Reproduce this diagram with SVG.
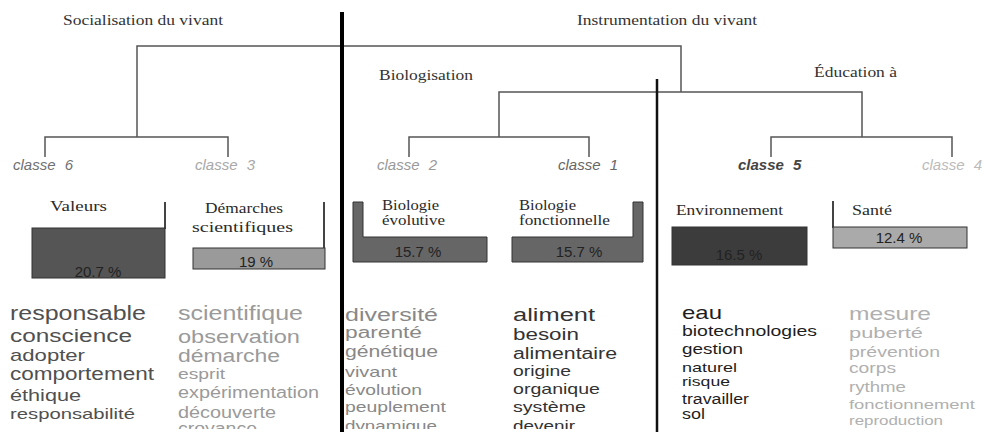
<svg xmlns="http://www.w3.org/2000/svg" width="987" height="437" viewBox="0 0 987 437">
<style>
.serif{font-family:"Liberation Serif","Times New Roman",serif;font-size:15px;fill:#333}
.box{font-family:"Liberation Serif","Times New Roman",serif;font-size:15px;fill:#2a2a2a}
.cls{font-family:"Liberation Sans",Arial,sans-serif;font-size:15px;font-style:italic;word-spacing:5px}
.pct{font-family:"Liberation Sans",Arial,sans-serif;font-size:15px;fill:#222;text-anchor:middle}
.w{font-family:"Liberation Sans",Arial,sans-serif}
.dend{fill:none;stroke:#555;stroke-width:1.5}
.bar{stroke:#333;stroke-width:1}
</style>
<defs>
<clipPath id="cut"><rect x="0" y="290" width="987" height="139"/></clipPath>
</defs>
<rect width="987" height="437" fill="#fff"/>
<g id="titles">
<text class="serif" x="63" y="25" textLength="160" lengthAdjust="spacingAndGlyphs">Socialisation du vivant</text>
<text class="serif" x="577" y="25" textLength="180" lengthAdjust="spacingAndGlyphs">Instrumentation du vivant</text>
<text class="serif" x="379" y="80" textLength="94" lengthAdjust="spacingAndGlyphs">Biologisation</text>
<text class="serif" x="814" y="77" textLength="83" lengthAdjust="spacingAndGlyphs">Éducation à</text>
</g>
<g id="connectors">
<path class="dend" d="M137 137V46H681V92"/>
<path class="dend" d="M45 157V137H228V157"/>
<path class="dend" d="M499 137V92H862V137"/>
<path class="dend" d="M409 157V137H589V157"/>
<path class="dend" d="M771 157V137H952V157"/>
<line x1="342" y1="12" x2="342" y2="432" stroke="#000" stroke-width="4"/>
<line x1="657" y1="79" x2="657" y2="432" stroke="#111" stroke-width="2.5"/>
</g>
<g id="classe6">
<text class="cls" x="13" y="170" fill="#707070">classe 6</text>
<line x1="165" y1="202" x2="165" y2="229" stroke="#444" stroke-width="2"/>
<rect class="bar" x="32" y="228" width="133" height="50" fill="#555"/>
<text class="box" x="50" y="211" textLength="57" lengthAdjust="spacingAndGlyphs">Valeurs</text>
<text class="pct" x="98" y="277">20.7 %</text>
<g clip-path="url(#cut)" fill="#505050" class="w">
<text x="10" y="320" font-size="20" textLength="136" lengthAdjust="spacingAndGlyphs">responsable</text>
<text x="10" y="342" font-size="18" textLength="122" lengthAdjust="spacingAndGlyphs">conscience</text>
<text x="10" y="361" font-size="17" textLength="75" lengthAdjust="spacingAndGlyphs">adopter</text>
<text x="10" y="380" font-size="18" textLength="144" lengthAdjust="spacingAndGlyphs">comportement</text>
<text x="10" y="401" font-size="16" textLength="71" lengthAdjust="spacingAndGlyphs">éthique</text>
<text x="10" y="419" font-size="15" textLength="125" lengthAdjust="spacingAndGlyphs">responsabilité</text>
</g>
</g>
<g id="classe3">
<text class="cls" x="195" y="170" fill="#a8a8a8">classe 3</text>
<line x1="324" y1="202" x2="324" y2="249" stroke="#444" stroke-width="2"/>
<rect class="bar" x="193" y="248" width="132" height="21" fill="#9a9a9a"/>
<text class="box" x="205" y="213" textLength="78" lengthAdjust="spacingAndGlyphs">Démarches</text>
<text class="box" x="192" y="232" textLength="101" lengthAdjust="spacingAndGlyphs">scientifiques</text>
<text class="pct" x="256" y="267">19 %</text>
<g clip-path="url(#cut)" fill="#9a9a9a" class="w">
<text x="178" y="320" font-size="20" textLength="125" lengthAdjust="spacingAndGlyphs">scientifique</text>
<text x="178" y="343" font-size="19" textLength="122" lengthAdjust="spacingAndGlyphs">observation</text>
<text x="178" y="362" font-size="18" textLength="102" lengthAdjust="spacingAndGlyphs">démarche</text>
<text x="178" y="379" font-size="15" textLength="47" lengthAdjust="spacingAndGlyphs">esprit</text>
<text x="178" y="398" font-size="16" textLength="141" lengthAdjust="spacingAndGlyphs">expérimentation</text>
<text x="178" y="418" font-size="16" textLength="98" lengthAdjust="spacingAndGlyphs">découverte</text>
<text x="178" y="434" font-size="16" textLength="79" lengthAdjust="spacingAndGlyphs">croyance</text>
</g>
</g>
<g id="classe2">
<text class="cls" x="377" y="170" fill="#999">classe 2</text>
<path class="bar" d="M353 202H363V237H487V262H353Z" fill="#666"/>
<text class="box" x="382" y="210" textLength="57" lengthAdjust="spacingAndGlyphs">Biologie</text>
<text class="box" x="382" y="225" textLength="63" lengthAdjust="spacingAndGlyphs">évolutive</text>
<text class="pct" x="418" y="257">15.7 %</text>
<g clip-path="url(#cut)" fill="#888" class="w">
<text x="345" y="321" font-size="18" textLength="93" lengthAdjust="spacingAndGlyphs">diversité</text>
<text x="345" y="338" font-size="16" textLength="77" lengthAdjust="spacingAndGlyphs">parenté</text>
<text x="345" y="357" font-size="16" textLength="93" lengthAdjust="spacingAndGlyphs">génétique</text>
<text x="345" y="377" font-size="15" textLength="52" lengthAdjust="spacingAndGlyphs">vivant</text>
<text x="345" y="395" font-size="15" textLength="77" lengthAdjust="spacingAndGlyphs">évolution</text>
<text x="345" y="412" font-size="15" textLength="101" lengthAdjust="spacingAndGlyphs">peuplement</text>
<text x="345" y="431" font-size="15" textLength="92" lengthAdjust="spacingAndGlyphs">dynamique</text>
</g>
</g>
<g id="classe1">
<text class="cls" x="558" y="170" fill="#666">classe 1</text>
<path class="bar" d="M643 202H633V237H512V262H643Z" fill="#666"/>
<text class="box" x="519" y="210" textLength="57" lengthAdjust="spacingAndGlyphs">Biologie</text>
<text class="box" x="519" y="225" textLength="91" lengthAdjust="spacingAndGlyphs">fonctionnelle</text>
<text class="pct" x="579" y="257">15.7 %</text>
<g clip-path="url(#cut)" fill="#333" class="w">
<text x="513" y="321" font-size="18" textLength="82" lengthAdjust="spacingAndGlyphs">aliment</text>
<text x="513" y="340" font-size="16" textLength="66" lengthAdjust="spacingAndGlyphs">besoin</text>
<text x="513" y="359" font-size="16" textLength="104" lengthAdjust="spacingAndGlyphs">alimentaire</text>
<text x="513" y="376" font-size="15" textLength="58" lengthAdjust="spacingAndGlyphs">origine</text>
<text x="513" y="394" font-size="15" textLength="87" lengthAdjust="spacingAndGlyphs">organique</text>
<text x="513" y="412" font-size="15" textLength="73" lengthAdjust="spacingAndGlyphs">système</text>
<text x="513" y="431" font-size="15" textLength="62" lengthAdjust="spacingAndGlyphs">devenir</text>
</g>
</g>
<g id="classe5">
<text class="cls" x="738" y="170" fill="#444" font-weight="bold">classe 5</text>
<rect class="bar" x="672" y="227" width="135" height="38" fill="#3c3c3c"/>
<text class="box" x="676" y="215" textLength="107" lengthAdjust="spacingAndGlyphs">Environnement</text>
<text class="pct" x="739" y="260" fill="#1e1e1e">16.5 %</text>
<g clip-path="url(#cut)" fill="#1e1e1e" class="w">
<text x="682" y="319" font-size="19" textLength="40" lengthAdjust="spacingAndGlyphs">eau</text>
<text x="682" y="336" font-size="15" textLength="135" lengthAdjust="spacingAndGlyphs">biotechnologies</text>
<text x="682" y="354" font-size="15" textLength="61" lengthAdjust="spacingAndGlyphs">gestion</text>
<text x="682" y="372" font-size="13" textLength="55" lengthAdjust="spacingAndGlyphs">naturel</text>
<text x="682" y="386" font-size="13" textLength="48" lengthAdjust="spacingAndGlyphs">risque</text>
<text x="682" y="404" font-size="14" textLength="67" lengthAdjust="spacingAndGlyphs">travailler</text>
<text x="682" y="419" font-size="14" textLength="23" lengthAdjust="spacingAndGlyphs">sol</text>
</g>
</g>
<g id="classe4">
<text class="cls" x="922" y="170" fill="#bbb">classe 4</text>
<line x1="833" y1="201" x2="833" y2="228" stroke="#444" stroke-width="2"/>
<rect class="bar" x="833" y="227" width="134" height="21" fill="#aaa"/>
<text class="box" x="852" y="215" textLength="40" lengthAdjust="spacingAndGlyphs">Santé</text>
<text class="pct" x="899" y="243">12.4 %</text>
<g clip-path="url(#cut)" fill="#b0b0b0" class="w">
<text x="849" y="320" font-size="19" textLength="82" lengthAdjust="spacingAndGlyphs">mesure</text>
<text x="849" y="338" font-size="15" textLength="74" lengthAdjust="spacingAndGlyphs">puberté</text>
<text x="849" y="357" font-size="15" textLength="91" lengthAdjust="spacingAndGlyphs">prévention</text>
<text x="849" y="373" font-size="14" textLength="47" lengthAdjust="spacingAndGlyphs">corps</text>
<text x="849" y="392" font-size="14" textLength="57" lengthAdjust="spacingAndGlyphs">rythme</text>
<text x="849" y="409" font-size="13" textLength="126" lengthAdjust="spacingAndGlyphs">fonctionnement</text>
<text x="849" y="425" font-size="13" textLength="94" lengthAdjust="spacingAndGlyphs">reproduction</text>
</g>
</g>
</svg>
